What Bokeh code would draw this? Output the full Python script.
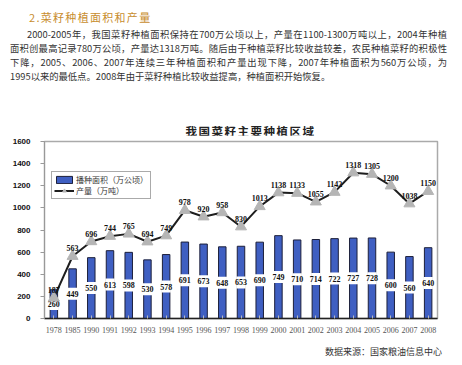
from bokeh.plotting import figure
from bokeh.models import ColumnDataSource, Div, Legend, LegendItem
from bokeh.core.properties import value
from bokeh.layouts import column
from bokeh.embed import file_html
from bokeh.resources import INLINE

years = ["1978", "1985", "1990", "1991", "1992", "1993", "1994", "1995", "1996", "1997",
         "1998", "1999", "2000", "2001", "2002", "2003", "2004", "2005", "2006", "2007", "2008"]
area = [260, 449, 550, 613, 598, 530, 578, 691, 673, 648, 653, 690, 749, 710, 714, 722, 727, 728, 600, 560, 640]
output = [187, 563, 696, 744, 765, 694, 749, 978, 920, 958, 830, 1013, 1138, 1133, 1055, 1142, 1318, 1305, 1200, 1038, 1150]
y_ticks = [0, 200, 400, 600, 800, 1000, 1200, 1400, 1600]

heading = "2.菜籽种植面积和产量"
para_lines = [
    "2000-2005年，我国菜籽种植面积保持在700万公顷以上，产量在1100-1300万吨以上，2004年种植",
    "面积创最高记录780万公顷，产量达1318万吨。随后由于种植菜籽比较收益较差，农民种植菜籽的积极性",
    "下降，2005、2006、2007年连续三年种植面积和产量出现下降，2007年种植面积为560万公顷，为",
    "1995以来的最低点。2008年由于菜籽种植比较收益提高，种植面积开始恢复。",
]
chart_title = "我国菜籽主要种植区域"
legend_area = "播种面积（万公顷）"
legend_output = "产量（万吨）"
source_text = "数据来源：国家粮油信息中心"

CJK = "'Noto Sans CJK SC', sans-serif"

html = ['<div style="position:relative;width:446px;height:135px;font-family:%s;color:#333;">' % CJK]
html.append('<div style="position:absolute;left:29px;top:9px;font-size:11px;letter-spacing:1.3px;color:#c88d2e;line-height:16px;">%s</div>' % heading)
tops = [27, 41, 55, 69]
for i, ln in enumerate(para_lines):
    left = 27 if i == 0 else 10
    just = "text-align-last:justify;" if i < 3 else ""
    html.append('<div style="position:absolute;left:%dpx;width:%dpx;top:%dpx;font-size:9.3px;line-height:14px;white-space:nowrap;text-align:justify;%s">%s</div>'
                % (left, 447 - left, tops[i], just, ln))
html.append('<div style="position:absolute;left:54px;width:393px;top:124px;text-align:center;font-size:11.5px;font-weight:bold;letter-spacing:1.5px;color:#222;line-height:14px;">%s</div>' % chart_title)
html.append('</div>')
div_top = Div(text="".join(html), width=446, height=135, styles={"margin": "0", "padding": "0"})

src = ColumnDataSource(dict(year=years, area=area, output=output,
                            half=[a / 2 for a in area],
                            area_txt=[str(a) for a in area],
                            out_txt=[str(o) for o in output]))

p = figure(x_range=years, y_range=(0, 1600), width=446, height=203,
           output_backend="svg", toolbar_location=None,
           min_border_left=44, min_border_right=9, min_border_top=6, min_border_bottom=20)
p.background_fill_color = "white"
p.outline_line_color = "#aaaaaa"
p.outline_line_width = 1.5
p.xgrid.visible = False
p.ygrid.visible = False

bars = p.vbar(x="year", top="area", width=0.4, source=src, fill_color="#3f5fc2",
              line_color="#1c1f3a", line_width=1)
# white band behind the area labels
p.rect(x="year", y="half", width=0.5, height=12, height_units="screen", source=src,
       fill_color="white", line_color=None)
p.text(x="year", y="half", text="area_txt", source=src, text_align="center",
       text_baseline="middle", text_font_size="8px", text_font_style="bold",
       text_font=value("Liberation Sans Narrow"), text_color="#111")

ln = p.line(x="year", y="output", source=src, line_color="#1e1e1e", line_width=2)
mk = p.scatter(x="year", y="output", source=src, marker="triangle", size=11,
               fill_color="#b5b5b5", line_color="#b5b5b5")
p.text(x="year", y="output", text="out_txt", source=src, text_align="center",
       text_baseline="bottom", y_offset=-5, text_font_size="8px", text_font_style="bold",
       text_font=value("Liberation Sans Narrow"), text_color="#111")

p.yaxis.ticker = y_ticks
p.yaxis.major_label_text_font_size = "8px"
p.yaxis.major_label_text_font_style = "bold"
p.yaxis.major_label_text_font = "Liberation Sans"
p.yaxis.major_label_text_color = "#111"
p.yaxis.axis_line_color = "#999999"
p.yaxis.major_tick_line_color = "#999999"
p.yaxis.major_tick_in = 0
p.yaxis.major_tick_out = 4
p.yaxis.minor_tick_line_color = None
p.yaxis.major_label_standoff = 10

p.xaxis.axis_line_color = "#222222"
p.xaxis.axis_line_width = 1.5
p.xaxis.major_tick_line_color = "#bbbbbb"
p.xaxis.major_tick_in = 3
p.xaxis.major_tick_out = 0
p.xaxis.major_label_text_font_size = "8px"
p.xaxis.major_label_text_font = "Liberation Serif"
p.xaxis.major_label_text_color = "#555"
p.xaxis.major_label_standoff = 8

legend = Legend(items=[LegendItem(label=legend_area, renderers=[bars]),
                       LegendItem(label=legend_output, renderers=[ln, mk])],
                location=(7, 119), orientation="vertical")
legend.label_text_font = "Noto Sans CJK SC"
legend.label_text_font_size = "8px"
legend.label_text_color = "#333"
legend.label_height = 9
legend.label_standoff = 2
legend.glyph_height = 9
legend.glyph_width = 20
legend.spacing = 0
legend.padding = 2
legend.margin = 0
legend.border_line_color = "#555"
legend.border_line_width = 0.8
legend.background_fill_alpha = 1
p.add_layout(legend, "center")

div_src = Div(text='<div style="width:437px;text-align:right;font-family:%s;font-size:9px;color:#333;line-height:11px;">%s</div>' % (CJK, source_text),
              width=446, height=11)

layout = column(div_top, p, div_src, spacing=0)
open("out.html", "w").write(file_html(layout, INLINE))
